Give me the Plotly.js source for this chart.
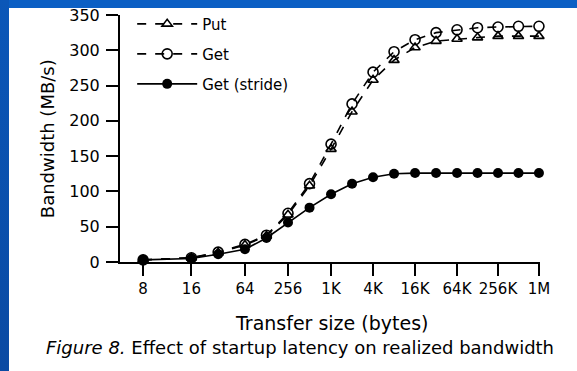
<!DOCTYPE html>
<html>
<head>
<meta charset="utf-8">
<script src="https://cdn.plot.ly/plotly-3.0.1.min.js"></script>
<style>
  html, body { margin: 0; padding: 0; width: 577px; height: 371px; overflow: hidden; background: #fff; }
  #plot { position: absolute; left: 0; top: 0; width: 577px; height: 371px; }
  #stripTop { position: absolute; left: 0; top: 0; width: 577px; height: 8px; background: #0b5fc4; z-index: 5; }
  #stripLeft { position: absolute; left: 0; top: 0; width: 9px; height: 371px;
    background: linear-gradient(180deg, #0b57b8, #0a4aa3); z-index: 5; }
</style>
</head>
<body>
<div id="plot"></div>
<div id="stripTop"></div>
<div id="stripLeft"></div>
<script>
// Transfer sizes in bytes
const sizes = [8, 16, 32, 64, 128, 256, 512, 1024, 2048, 4096, 8192, 16384, 32768, 65536, 131072, 262144, 524288, 1048576];
// Bandwidth (MB/s)
const putBW    = [3, 6, 13, 24, 37, 67, 108, 160, 213, 258, 286, 304, 313, 316, 318, 320, 320, 320];
const getBW    = [3, 6, 14, 25, 38, 69, 111, 167, 224, 269, 298, 315, 325, 329, 332, 333, 334, 334];
const strideBW = [3, 5, 11, 18, 34, 56, 77, 96, 111, 120, 125, 126, 126, 126, 126, 126, 126, 126];

const seriesNames = ["Put", "Get", "Get (stride)"];
const tickLabels = ["8", "16", "64", "256", "1K", "4K", "16K", "64K", "256K", "1M"];
const tickBytes  = [8, 16, 64, 256, 1024, 4096, 16384, 65536, 262144, 1048576];
const yTicks = [0, 50, 100, 150, 200, 250, 300, 350];

// The original figure's x axis is irregular (log scale, first intervals stretched).
// Axis scale: position of each labelled tick along the axis.
const tickUnits = [0, 2.3, 4.85, 6.9, 8.95, 10.95, 12.95, 14.95, 16.9, 18.85];
function xScale(b) {
  const l = Math.log2(b);
  for (let i = 0; i < tickBytes.length - 1; i++) {
    const a = Math.log2(tickBytes[i]), c = Math.log2(tickBytes[i + 1]);
    if (l >= a && l <= c) return tickUnits[i] + (l - a) / (c - a) * (tickUnits[i + 1] - tickUnits[i]);
  }
  return tickUnits[tickUnits.length - 1];
}
const xs = sizes.map(xScale);

const font = "DejaVu Sans, Liberation Sans, Arial, sans-serif";
const traces = [
  { x: xs, y: putBW, name: seriesNames[0], legendgroup: "a", mode: "lines+markers", cliponaxis: false,
    line: { color: "#000", width: 1.6, dash: "dash" },
    marker: { symbol: "triangle-up-open", size: 9, color: "#000", line: { width: 1.6, color: "#000" } } },
  { x: xs, y: getBW, name: seriesNames[1], legendgroup: "b", mode: "lines+markers", cliponaxis: false,
    line: { color: "#000", width: 1.6, dash: "dash" },
    marker: { symbol: "circle-open", size: 10, color: "#000", line: { width: 1.6, color: "#000" } } },
  { x: xs, y: strideBW, name: seriesNames[2], legendgroup: "c", mode: "lines+markers", cliponaxis: false,
    line: { color: "#000", width: 1.6 },
    marker: { symbol: "circle", size: 10, color: "#000" } }
];

const layout = {
  width: 577, height: 371,
  margin: { l: 120, r: 37, t: 15, b: 109, autoexpand: false },
  paper_bgcolor: "#fff", plot_bgcolor: "#fff",
  font: { family: font, color: "#000", size: 15 },
  showlegend: true,
  legend: { x: 0.029, y: 1.03, xanchor: "left", yanchor: "top",
    traceorder: "grouped", tracegroupgap: 7.5, itemwidth: 60, bgcolor: "rgba(0,0,0,0)",
    font: { size: 15, family: font, color: "#000" } },
  xaxis: { range: [-1.1, 18.9], tickmode: "array", tickvals: tickBytes.map(xScale), ticktext: tickLabels,
    showgrid: false, zeroline: false, showline: true, linecolor: "#000", linewidth: 2,
    ticks: "outside", ticklen: 12, tickwidth: 2, tickcolor: "#000",
    tickfont: { size: 15, family: font, color: "#000" }, fixedrange: true },
  yaxis: { range: [0, 350], tickmode: "array", tickvals: yTicks,
    showgrid: false, zeroline: false, showline: true, linecolor: "#000", linewidth: 2,
    ticks: "outside", ticklen: 12, tickwidth: 2, tickcolor: "#000", ticklabelstandoff: 3,
    tickfont: { size: 16, family: font, color: "#000" }, fixedrange: true },
  annotations: [
    { text: "Transfer size (bytes)", xref: "paper", yref: "paper", x: 0.504, y: -0.247,
      xanchor: "center", yanchor: "middle",
      showarrow: false, font: { size: 19, family: font, color: "#000" } },
    { text: "Bandwidth (MB/s)", xref: "paper", yref: "paper", x: -0.171, y: 0.498, textangle: -90,
      xanchor: "center", yanchor: "middle",
      showarrow: false, font: { size: 18, family: font, color: "#000" } },
    { text: "<i>Figure 8.</i> Effect of startup latency on realized bandwidth", xref: "paper", yref: "paper",
      x: 0.4286, y: -0.348, xanchor: "center", yanchor: "middle",
      showarrow: false, font: { size: 18, family: font, color: "#000" } }
  ]
};

Plotly.newPlot("plot", traces, layout, { displayModeBar: false, staticPlot: true });
</script>
</body>
</html>
